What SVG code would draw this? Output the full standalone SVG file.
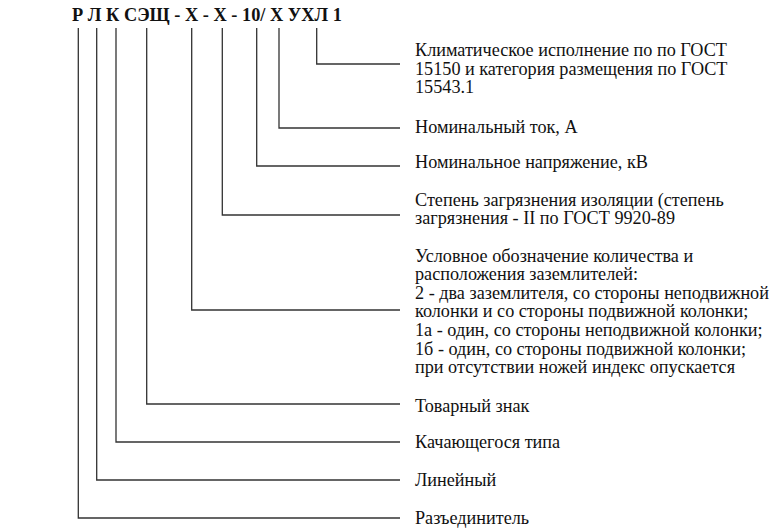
<svg xmlns="http://www.w3.org/2000/svg" width="780" height="529" viewBox="0 0 780 529">
<style>
.t{font-family:"Liberation Serif","Times New Roman",serif;font-size:18.2px;fill:#111}
.h{font-family:"Liberation Serif","Times New Roman",serif;font-size:18px;font-weight:bold;fill:#111}
.c{fill:none;stroke:#333;stroke-width:1.3}
</style>
<rect width="780" height="529" fill="#fff"/>
<g id="title"><text class="h" x="72" y="21" textLength="270" lengthAdjust="spacingAndGlyphs" xml:space="preserve">Р Л К СЭЩ - Х - Х - 10/ Х УХЛ 1</text></g>
<g id="connectors">
<path class="c" d="M316.7 28V64H400"/>
<path class="c" d="M279 28V128H400"/>
<path class="c" d="M256.7 28V166H400"/>
<path class="c" d="M222.3 28V215H400"/>
<path class="c" d="M191.7 28V310H400"/>
<path class="c" d="M146.7 28V404H400"/>
<path class="c" d="M116 28V442H400"/>
<path class="c" d="M96.7 28V480H400"/>
<path class="c" d="M78.3 28V518H400"/>
</g>
<g id="n1"><text class="t" x="415" y="56">Климатическое исполнение по по ГОСТ</text><text class="t" x="415" y="74.7">15150 и категория размещения по ГОСТ</text><text class="t" x="415" y="93.4">15543.1</text></g>
<g id="n2"><text class="t" x="415" y="133">Номинальный ток, А</text></g>
<g id="n3"><text class="t" x="415" y="168">Номинальное напряжение, кВ</text></g>
<g id="n4"><text class="t" x="415" y="205.5">Степень загрязнения изоляции (степень</text><text class="t" x="415" y="224.2">загрязнения - II по ГОСТ 9920-89</text></g>
<g id="n5"><text class="t" x="415" y="261.5">Условное обозначение количества и</text><text class="t" x="415" y="280.1">расположения заземлителей:</text><text class="t" x="415" y="298.7">2 - два заземлителя, со стороны неподвижной</text><text class="t" x="415" y="317.3">колонки и со стороны подвижной колонки;</text><text class="t" x="415" y="335.9">1а - один, со стороны неподвижной колонки;</text><text class="t" x="415" y="354.5">1б - один, со стороны подвижной колонки;</text><text class="t" x="415" y="373.1">при отсутствии ножей индекс опускается</text></g>
<g id="n6"><text class="t" x="415" y="412">Товарный знак</text></g>
<g id="n7"><text class="t" x="415" y="448">Качающегося типа</text></g>
<g id="n8"><text class="t" x="415" y="486">Линейный</text></g>
<g id="n9"><text class="t" x="415" y="524">Разъединитель</text></g>
</svg>
